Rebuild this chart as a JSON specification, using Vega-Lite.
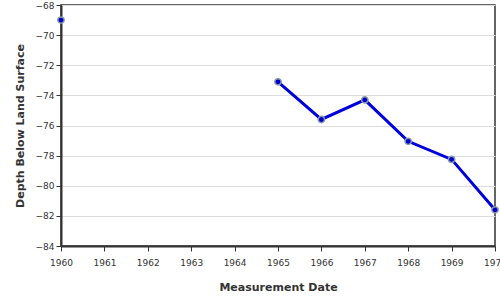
{
  "$schema": "https://vega.github.io/schema/vega-lite/v6.json",
  "autosize": "none",
  "width": 434,
  "height": 241,
  "padding": {"left": 61, "top": 5, "right": 5, "bottom": 54},
  "config": {
    "font": "DejaVu Sans",
    "view": {"stroke": "#333333", "strokeWidth": 1.5},
    "axis": {
      "labelFont": "DejaVu Sans",
      "titleFont": "DejaVu Sans",
      "labelFontSize": 9,
      "labelColor": "#333333",
      "titleFontSize": 11,
      "titleFontWeight": "bold",
      "titleColor": "#333333",
      "domainColor": "#333333",
      "domainWidth": 2,
      "tickColor": "#333333",
      "tickSize": 5,
      "gridColor": "#dddddd"
    }
  },
  "data": {
    "values": [
      {"year": 1960, "depth": -69.0},
      {"year": 1962, "depth": null},
      {"year": 1965, "depth": -73.1},
      {"year": 1966, "depth": -75.6},
      {"year": 1967, "depth": -74.3},
      {"year": 1968, "depth": -77.05},
      {"year": 1969, "depth": -78.25},
      {"year": 1970, "depth": -81.6}
    ]
  },
  "encoding": {
    "x": {
      "field": "year",
      "type": "quantitative",
      "scale": {"domain": [1960, 1970], "nice": false, "zero": false},
      "axis": {
        "title": "Measurement Date",
        "values": [1960, 1961, 1962, 1963, 1964, 1965, 1966, 1967, 1968, 1969, 1970],
        "format": "d",
        "grid": false,
        "labelFlush": false,
        "labelOverlap": false,
        "labelPadding": 7,
        "titlePadding": 14
      }
    },
    "y": {
      "field": "depth",
      "type": "quantitative",
      "scale": {"domain": [-84, -68], "nice": false, "zero": false},
      "axis": {
        "title": "Depth Below Land Surface",
        "values": [-84, -82, -80, -78, -76, -74, -72, -70, -68],
        "grid": true,
        "labelPadding": 2,
        "titlePadding": 10
      }
    }
  },
  "layer": [
    {
      "mark": {"type": "line", "color": "#0000dd", "strokeWidth": 3, "invalid": "break-paths-show-domains"}
    },
    {
      "transform": [{"filter": "datum.depth != null"}],
      "mark": {"type": "point", "filled": true, "fill": "#0000cc", "stroke": "#8899aa", "strokeWidth": 1.5, "size": 40, "opacity": 1}
    }
  ]
}
